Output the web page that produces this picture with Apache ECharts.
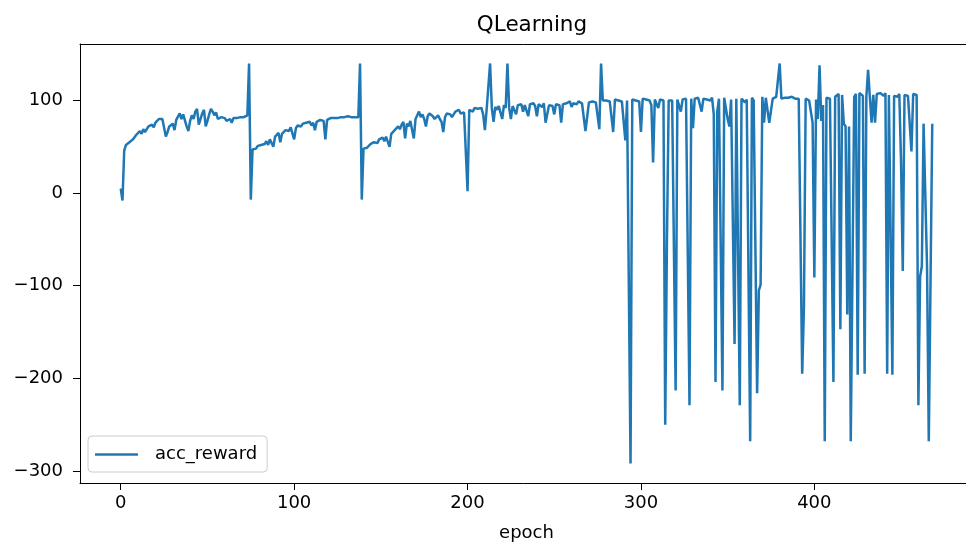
<!DOCTYPE html>
<html>
<head>
<meta charset="utf-8">
<script src="https://cdn.jsdelivr.net/npm/echarts@6/dist/echarts.min.js"></script>
<style>
html,body{margin:0;padding:0;background:#fff;}
#chart{width:966px;height:547px;}
</style>
</head>
<body>
<div id="chart"></div>
<script>
// acc_reward per epoch
var accReward = [
  5, -8, 46, 52, 54, 55, 53, 58, 60, 63,
  62, 67, 64, 69, 66, 68, 72, 70, 74, 71,
  76, 78, 80, 79, 80, 78, 61, 66, 72, 70,
  75, 68, 79, 77, 86, 80, 85, 84, 72, 67,
  78, 84, 80, 88, 91, 74, 80, 86, 90, 72,
  78, 85, 91, 88, 84, 87, 80, 81, 82, 80,
  81, 78, 77, 80, 76, 81, 82, 81, 83, 82,
  80, 82, 83, 84, 140, -7, 47, 49, 48, 51,
  50, 52, 54, 53, 56, 52, 58, 60, 50, 61,
  63, 65, 55, 64, 66, 68, 70, 67, 71, 72,
  58, 70, 73, 74, 72, 75, 74, 76, 75, 77,
  73, 76, 68, 77, 78, 79, 80, 78, 58, 79,
  80, 81, 80, 81, 82, 81, 82, 82, 83, 82,
  82, 83, 83, 82, 83, 82, 83, 82, 140, -7,
  48, 50, 49, 51, 53, 52, 55, 56, 54, 58,
  57, 60, 56, 61, 63, 50, 64, 62, 68, 70,
  72, 69, 74, 77, 59, 75, 72, 78, 76, 59,
  80, 84, 88, 82, 85, 80, 72, 83, 86, 84,
  83, 80, 82, 84, 80, 77, 66, 82, 86, 88,
  85, 82, 84, 88, 87, 90, 86, 88, 87, 88,
  2, 90, 91, 88, 92, 90, 91, 89, 92, 85,
  68, 90, 92, 140, 92, 77, 93, 90, 94, 92,
  80, 95, 92, 140, 92, 80, 94, 92, 85, 95,
  93, 96, 88, 95, 94, 83, 96, 95, 97, 94,
  83, 96, 95, 93, 97, 76, 74, 95, 96, 94,
  85, 96, 97, 95, 76, 96, 98, 97, 95, 99,
  93, 97, 98, 96, 99, 97, 97, 99, 67, 65,
  98, 97, 99, 100, 98, 99, 69, 140, 100, 101,
  100, 101, 99, 100, 66, 101, 102, 100, 101, 99,
  99, 57, 100, 101, -292, 101, 102, 100, 101, 99,
  66, 102, 100, 101, 99, 100, 95, 33, 101, 100,
  92, 101, 102, 100, -250, -51, 100, 101, 100, 102,
  -213, 101, 100, 88, 101, 100, 102, 101, -229, 102,
  70, 102, 101, 103, 102, 88, 102, 103, 101, 102,
  100, 103, 85, -204, 88, 102, 101, -213, 103, 104,
  80, 72, 101, 103, -163, 102, 101, -229, 102, 100,
  98, 101, 102, -268, 103, 100, 101, -216, -105, -99,
  104, 76, 103, 102, 76, 77, 102, 103, 104, 103,
  140, 102, 104, 103, 104, 103, 102, 104, 103, 102,
  103, 102, 101, -195, -123, 102, 103, 100, 102, 76,
  -91, 101, 80, 138, 78, 95, -268, 103, 101, 102,
  103, -204, 104, 106, 107, -147, 106, 75, 72, -131,
  72, -268, -268, 104, 107, -196, 108, 106, 105, -195,
  104, 133, 104, 76, 106, 76, 107, 109, 108, 106,
  105, 108, -195, 106, 107, -196, 105, 106, 104, 107,
  34, -84, 106, 107, 105, 106, 45, 107, 108, 106,
  -229, -90, -79, 75, 75, -80, -268, -268, 75
];
var xTicks = [0, 100, 200, 300, 400];
var yTicks = [-300, -200, -100, 0, 100];
var seriesName = 'acc_reward';
var titleText = 'QLearning';
var xName = 'epoch';

var points = accReward.map(function (v, i) { return [i, v]; });
var FONT = 'DejaVu Sans';
var INK = '#000000';

var chart = echarts.init(document.getElementById('chart'), null, {renderer: 'canvas'});
chart.setOption({
  animation: false,
  backgroundColor: '#ffffff',
  textStyle: {fontFamily: FONT},
  title: {
    text: titleText,
    left: 527,
    textAlign: 'center',
    top: 9,
    textStyle: {fontFamily: FONT, fontSize: 21.5, fontWeight: 'normal', color: INK}
  },
  grid: {left: 80, top: 44, width: 893, height: 439, containLabel: false, outerBoundsMode: 'none'},
  legend: {
    data: [{name: seriesName, icon: 'rect'}],
    left: 88,
    top: 436,
    orient: 'horizontal',
    itemWidth: 43,
    itemHeight: 2.6,
    padding: [9, 10, 8, 7],
    backgroundColor: 'rgba(255,255,255,0.8)',
    borderColor: '#cccccc',
    borderWidth: 1,
    borderRadius: 4,
    textStyle: {fontFamily: FONT, fontSize: 18, color: INK, padding: [0, 0, 0, 12], lineHeight: 19}
  },
  xAxis: [{
    type: 'value',
    position: 'bottom',
    min: -23.5,
    max: 491.5,
    name: xName,
    nameLocation: 'middle',
    nameGap: 41,
    nameTextStyle: {fontFamily: FONT, fontSize: 18, color: INK},
    axisLine: {show: true, onZero: false, lineStyle: {color: INK, width: 1}},
    axisTick: {show: true, inside: false, length: 7, customValues: xTicks, lineStyle: {color: INK, width: 1}},
    axisLabel: {show: true, customValues: xTicks, margin: 11, fontFamily: FONT, fontSize: 18, color: INK},
    splitLine: {show: false}
  }, {
    type: 'value',
    position: 'top',
    min: -23.5,
    max: 491.5,
    axisLine: {show: true, onZero: false, lineStyle: {color: INK, width: 1}},
    axisTick: {show: false},
    axisLabel: {show: false},
    splitLine: {show: false}
  }],
  yAxis: {
    type: 'value',
    min: -313,
    max: 161,
    axisLine: {show: true, onZero: false, lineStyle: {color: INK, width: 1}},
    axisTick: {show: true, inside: false, length: 7, customValues: yTicks, lineStyle: {color: INK, width: 1}},
    axisLabel: {
      show: true, customValues: yTicks, margin: 17, fontFamily: FONT, fontSize: 18, color: INK,
      formatter: function (v) { return v < 0 ? '\u2212' + Math.abs(v) : String(v); }
    },
    splitLine: {show: false}
  },
  series: [{
    name: seriesName,
    type: 'line',
    xAxisIndex: 0,
    data: points,
    symbol: 'none',
    showSymbol: false,
    color: '#1f77b4',
    lineStyle: {color: '#1f77b4', width: 2.5},
    z: 2
  }]
});
</script>
</body>
</html>
